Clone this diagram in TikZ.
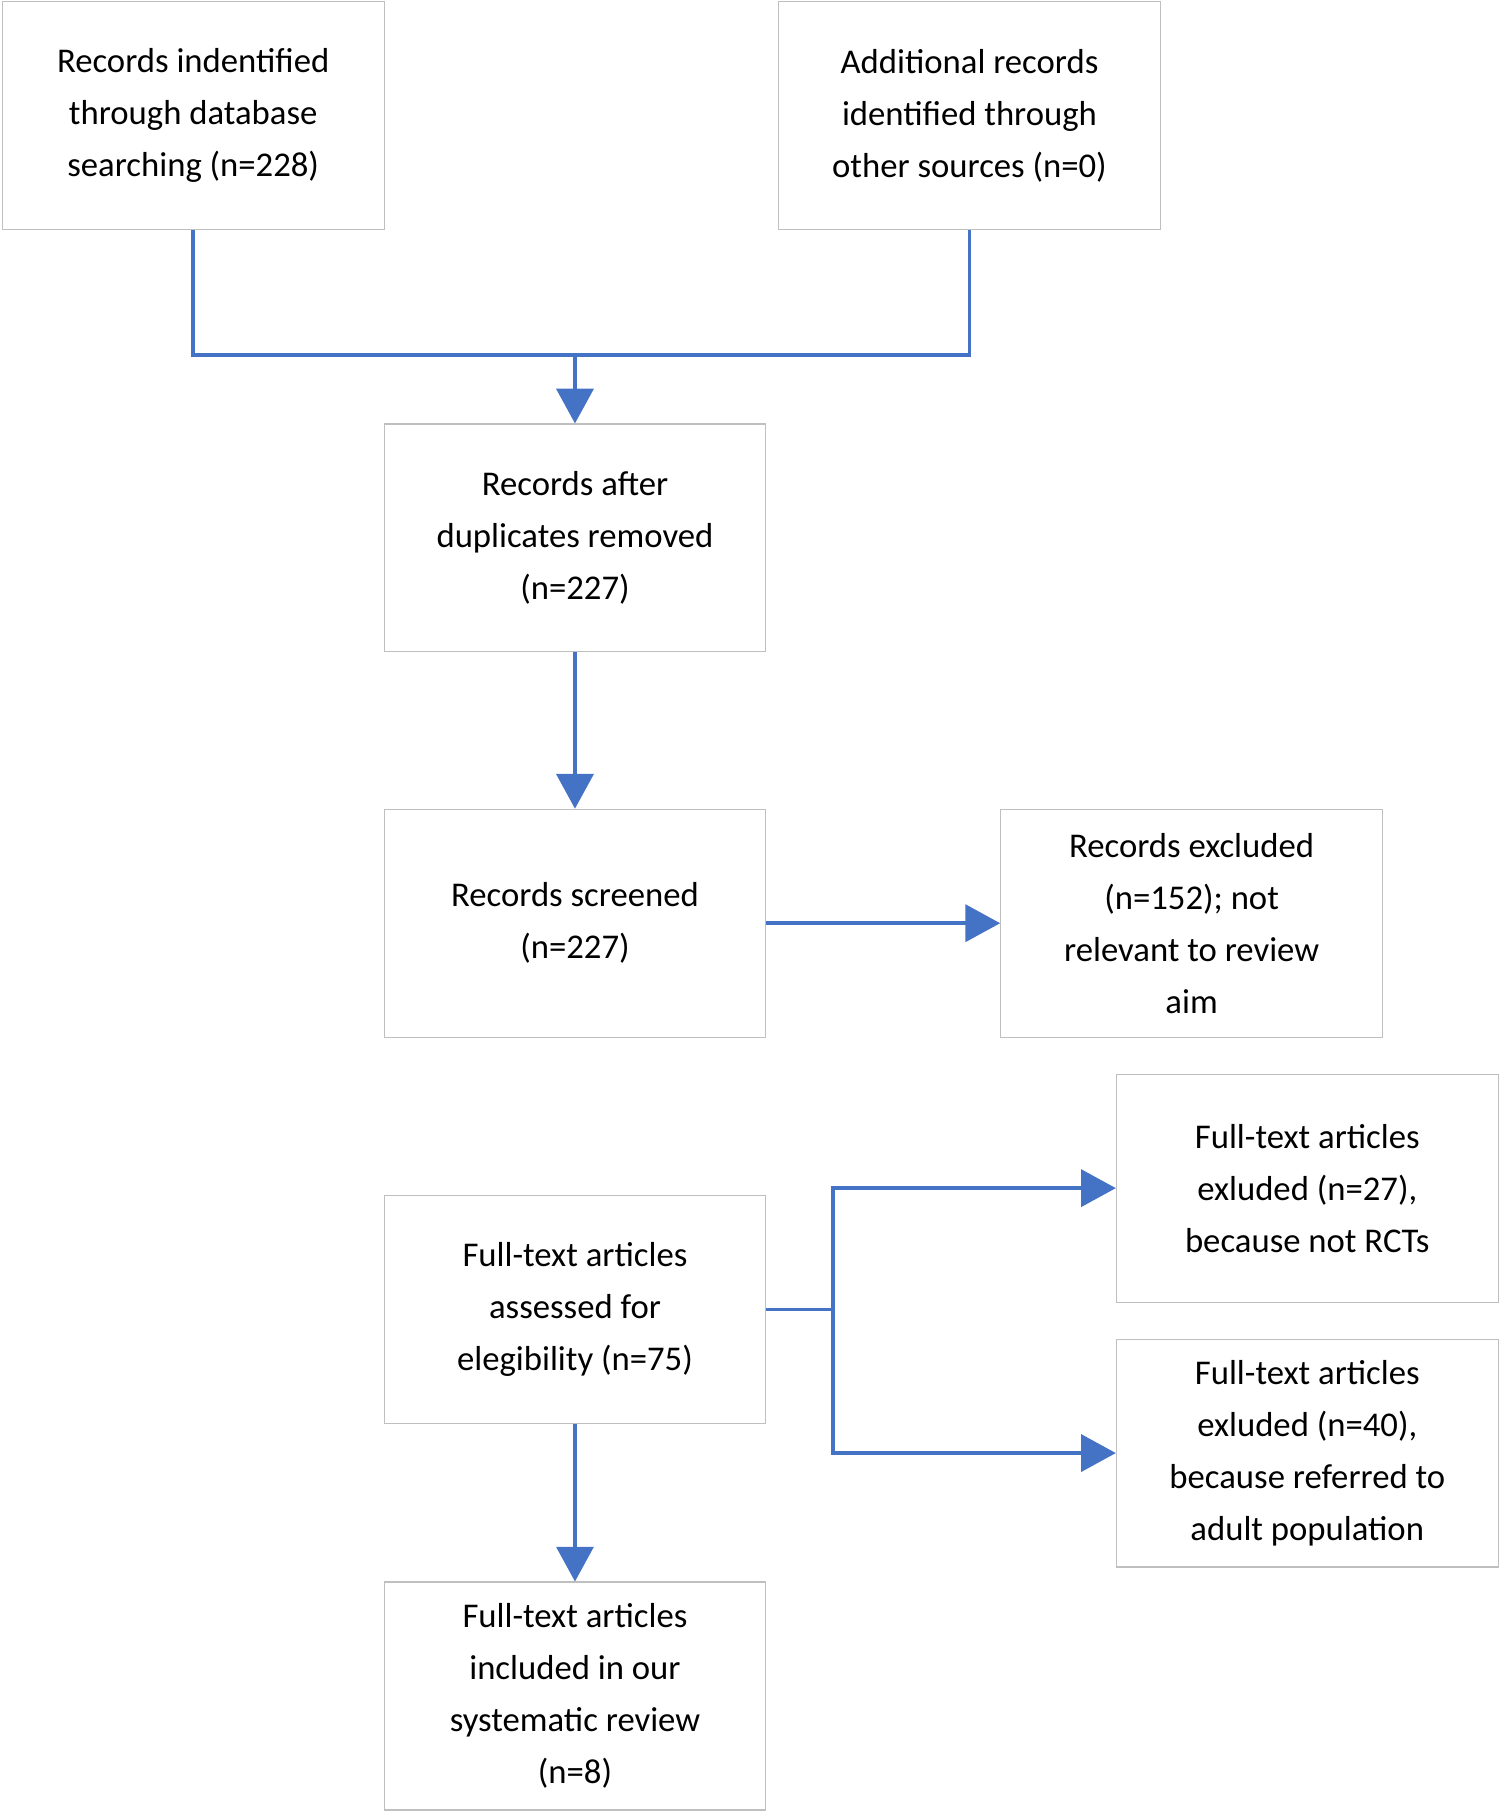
\documentclass[tikz,border=0pt]{standalone}
\usepackage{fontspec}
\setmainfont{Carlito}
\usetikzlibrary{arrows.meta}
\definecolor{ln}{HTML}{4472C4}
\definecolor{bd}{HTML}{BFBFBF}
\begin{document}
\begin{tikzpicture}[x=1pt,y=-1pt,
 box/.style={draw=bd,line width=1pt,minimum width=330pt,minimum height=197pt,align=center,inner sep=0pt,
   font=\fontsize{30pt}{45pt}\selectfont},
 con/.style={draw=ln,line width=3pt},
 arr/.style={con,-{Triangle[length=30pt,width=32pt]}}]
\useasboundingbox (0,0) rectangle (1300,1568);
\node[box] (A) at (167,100) {Records indentified\\through database\\searching (n=228)};
\node[box] (B) at (838,100) {Additional records\\identified through\\other sources (n=0)};
\node[box] (C) at (497,465) {Records after\\duplicates removed\\(n=227)};
\node[box] (D) at (497,798) {Records screened\\(n=227)};
\node[box] (E) at (1030,798) {Records excluded\\(n=152); not\\relevant to review\\aim};
\node[box] (F) at (497,1132) {Full-text articles\\assessed for\\elegibility (n=75)};
\node[box] (G) at (1130,1027) {Full-text articles\\exluded (n=27),\\because not RCTs};
\node[box] (H) at (1130,1256) {Full-text articles\\exluded (n=40),\\because referred to\\adult population};
\node[box] (I) at (497,1466) {Full-text articles\\included in our\\systematic review\\(n=8)};
\coordinate (m) at (497,307);
\coordinate (s) at (720,1132);
\draw[con] (A.south) -- (A.south |- m) -- (B.south |- m) -- (B.south);
\draw[arr] (m) -- (C.north);
\draw[arr] (C) -- (D);
\draw[arr] (D) -- (E);
\draw[arr] (F) -- (I);
\draw[con] (F.east) -- (s);
\draw[arr] (s) |- (G.west);
\draw[arr] (s) |- (H.west);
\end{tikzpicture}
\end{document}
